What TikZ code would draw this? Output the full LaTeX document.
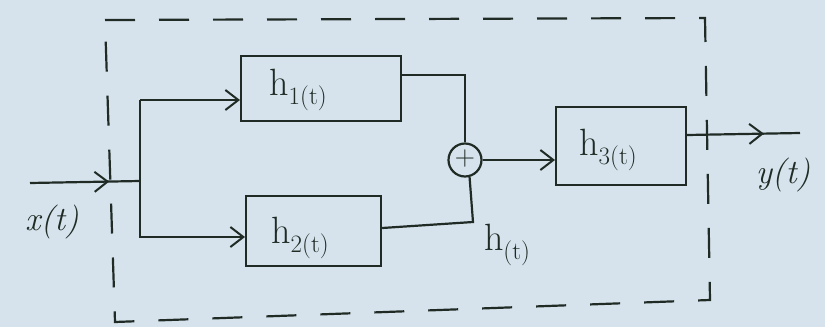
\documentclass[tikz,border=0pt]{standalone}
\usepackage{fontspec}
\usetikzlibrary{arrows.meta,decorations.markings}
\definecolor{paper}{rgb}{0.84,0.89,0.93}
\definecolor{ink}{rgb}{0.12,0.17,0.14}
\newcommand{\hsb}[1]{h\raisebox{-0.25em}{\fontsize{25}{25}\selectfont #1}}
\begin{document}
\begin{tikzpicture}[x=1pt,y=-1pt,
  ink line/.style={draw=ink,line width=2.2pt},
  tip/.style={-{Straight Barb[length=13pt,width=20pt,line width=2pt]}},
  midtip/.style={postaction={decorate},decoration={markings,mark=at position #1 with {\arrow{Straight Barb[length=13pt,width=20pt,line width=2pt]}}}},
  lbl/.style={text=ink,font=\fontsize{38}{40}\selectfont},
  hand/.style={text=ink,font=\fontsize{34}{36}\selectfont\itshape}]
\fill[paper] (0,0) rectangle (825,327);
\useasboundingbox (0,0) rectangle (825,327);
% dashed frame
\draw[ink line,dash pattern=on 30pt off 24pt] (105,20) -- (705,18) -- (710,300) -- (115,322) -- cycle;
% blocks
\node[ink line,minimum width=160pt,minimum height=65pt,anchor=north west,inner sep=0pt] (h1) at (240,55) {};
\node[lbl] at (298,90) {\hsb{1(t)}};
\node[ink line,minimum width=135pt,minimum height=70pt,anchor=north west,inner sep=0pt] (h2) at (245,195) {};
\node[lbl] at (300,238) {\hsb{2(t)}};
\node[ink line,minimum width=130pt,minimum height=78pt,anchor=north west,inner sep=0pt] (h3) at (555,106) {};
\node[lbl] at (608,150) {\hsb{3(t)}};
\node[ink line,circle,minimum size=33pt,inner sep=0pt] (sum) at (465,160) {};
\node[text=ink,font=\fontsize{28}{28}\selectfont] at (465,159) {+};
% coordinates
\coordinate (xin) at (30,183);
\coordinate (jn) at (140,181);
\coordinate (jtop) at (140,100);
\coordinate (jbot) at (145,237);
\coordinate (bend) at (473,222);
\coordinate (yout) at (800,133);
% input
\draw[ink line,midtip=0.72] (xin) -- (jn);
\draw[ink line] (jtop) -- (jn) |- (jbot);
\draw[ink line,tip] (jtop) -- (h1.west |- jtop);
\draw[ink line,tip] (jbot) -- (h2.west |- jbot);
% to adder
\draw[ink line] (h1.east |- 0,75) -| (sum.north);
\draw[ink line] (h2.east |- 0,228) -- (bend) -- (sum.-75);
\draw[ink line,tip] (sum.east) -- (h3.west |- sum.east);
% output
\draw[ink line,midtip=0.68] (h3.east |- 0,135) -- (yout);
% labels
\node[hand] at (52,222) {x(t)};
\node[hand] at (783,175) {y(t)};
\node[lbl] at (507,245) {\hsb{(t)}};
\end{tikzpicture}
\end{document}
